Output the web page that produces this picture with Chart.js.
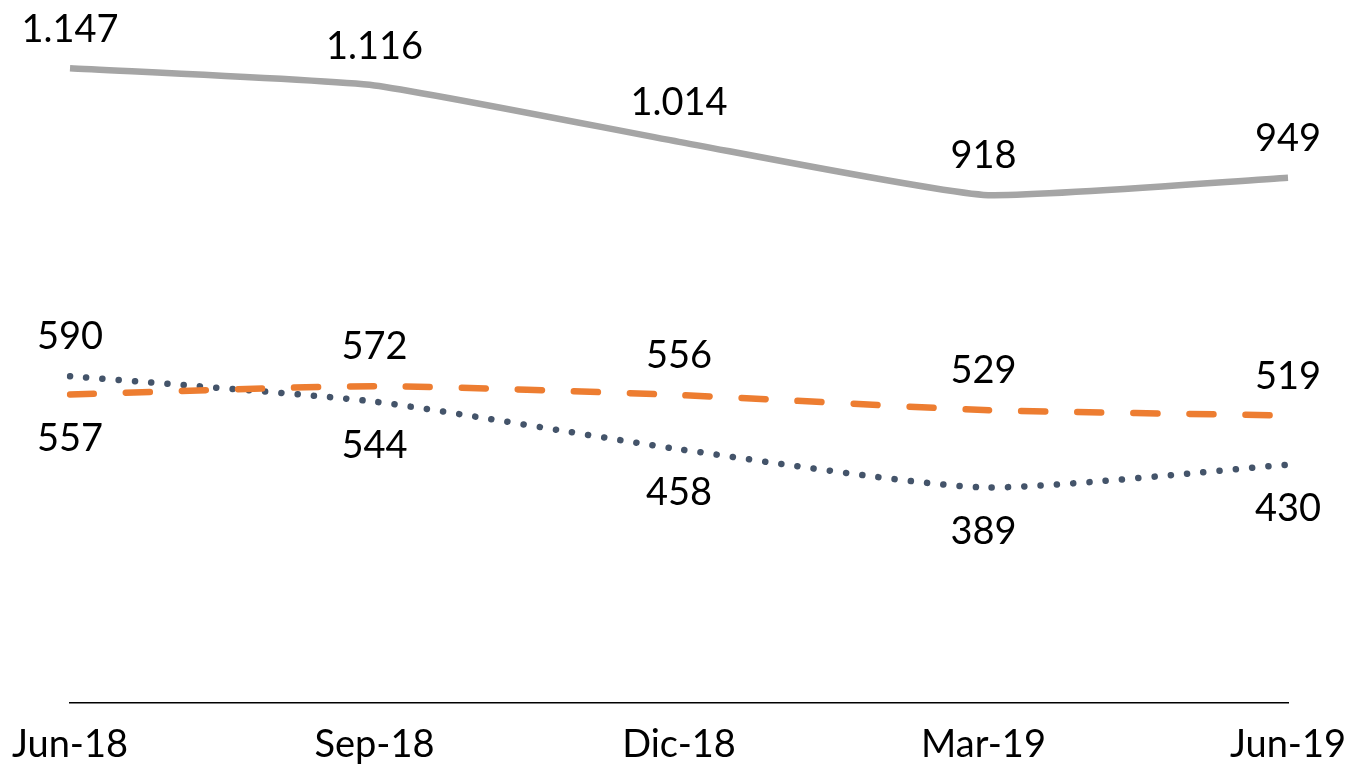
<!DOCTYPE html>
<html>
<head>
<meta charset="utf-8">
<script src="https://cdn.jsdelivr.net/npm/chart.js@4/dist/chart.umd.min.js"></script>
<style>
  html, body { margin: 0; padding: 0; background: #fff; }
  #wrap { width: 1358px; height: 773px; position: relative; }
</style>
</head>
<body>
<div id="wrap"><canvas id="chart"></canvas></div>
<script>
// ── Data ──
const categories = ['Jun-18', 'Sep-18', 'Dic-18', 'Mar-19', 'Jun-19'];
const totalVals  = [1147, 1116, 1014, 918, 949];
const dottedVals = [590, 544, 458, 389, 430];
const dashedVals = [557, 572, 556, 529, 519];

// label placement per point: 'a' above, 'b' below
const totalPos  = ['a', 'a', 'a', 'a', 'a'];
const dottedPos = ['a', 'b', 'b', 'b', 'b'];
const dashedPos = ['b', 'a', 'a', 'a', 'a'];

const FONT = 'Lato, "Open Sans", sans-serif';

// es-ES style thousands separator
const fmt = n => String(n).replace(/\B(?=(\d{3})+(?!\d))/g, '.');

// ── Data labels plugin ──
const pointLabels = {
  id: 'pointLabels',
  afterDatasetsDraw(chart) {
    const ctx = chart.ctx;
    ctx.save();
    ctx.font = '38px ' + FONT;
    ctx.fillStyle = '#000';
    ctx.textAlign = 'center';
    ctx.textBaseline = 'middle';
    chart.data.datasets.forEach((ds, i) => {
      const meta = chart.getDatasetMeta(i);
      meta.data.forEach((pt, j) => {
        const dy = ds.labelPos[j] === 'a' ? -39 : 44;
        ctx.fillText(fmt(ds.data[j]), pt.x, pt.y + dy);
      });
    });
    ctx.restore();
  }
};

new Chart(document.getElementById('chart'), {
  type: 'line',
  data: {
    labels: categories,
    datasets: [
      {
        data: totalVals,
        labelPos: totalPos,
        borderColor: '#A5A5A5',
        borderWidth: 6.5,
        tension: 0.15,
        pointRadius: 0,
        borderCapStyle: 'butt'
      },
      {
        data: dashedVals,
        labelPos: dashedPos,
        borderColor: '#ED7D31',
        borderWidth: 6.5,
        borderDash: [24, 32],
        borderCapStyle: 'round',
        tension: 0.2,
        pointRadius: 0
      },
      {
        data: dottedVals,
        labelPos: dottedPos,
        borderColor: '#44546A',
        borderWidth: 6.5,
        borderDash: [0.1, 16.2],
        borderCapStyle: 'round',
        tension: 0.2,
        pointRadius: 0
      }
    ]
  },
  options: {
    responsive: true,
    maintainAspectRatio: false,
    animation: false,
    layout: { padding: { left: 70, right: 70, top: 39, bottom: -15 } },
    plugins: { legend: { display: false }, tooltip: { enabled: false } },
    scales: {
      x: {
        offset: false,
        grid: { display: false, drawTicks: false },
        border: { display: true, color: '#000', width: 1.5 },
        ticks: {
          color: '#000',
          padding: 20,
          maxRotation: 0,
          autoSkip: false,
          font: { family: FONT, size: 38 }
        },
        // edge labels may overhang the plot, like the original
        afterFit: s => { s.paddingLeft = 0; s.paddingRight = 0; }
      },
      y: {
        display: false,
        min: 0,
        max: 1200
      }
    }
  },
  plugins: [pointLabels]
});
</script>
</body>
</html>
